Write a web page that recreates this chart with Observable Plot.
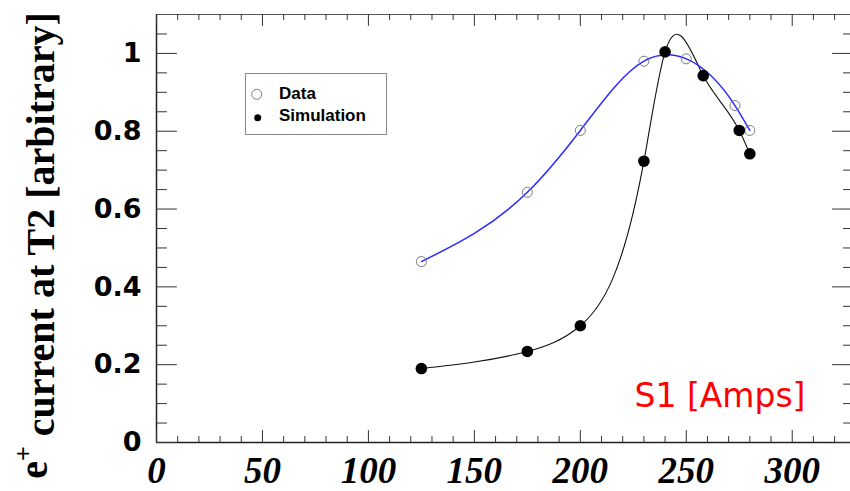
<!DOCTYPE html>
<html>
<head>
<meta charset="utf-8">
<script src="https://cdn.jsdelivr.net/npm/d3@7"></script>
<script src="https://cdn.jsdelivr.net/npm/@observablehq/plot@0.6"></script>
<style>
  html, body { margin: 0; padding: 0; background: white; overflow: hidden; }
  #wrap { position: relative; width: 850px; height: 491px; }
  #legend { position: absolute; left: 245px; top: 73px; width: 142px; height: 62px;
            box-sizing: border-box; border: 1px solid #888; background: white; }
</style>
</head>
<body>
<div id="wrap">
  <div id="chart"></div>
  <div id="legend"></div>
</div>
<script>
// ---- data ----
const dataX = [125, 175, 200, 230, 250, 273, 280];
const dataY = [0.465, 0.643, 0.802, 0.980, 0.986, 0.866, 0.802];
const simX  = [125, 175, 200, 230, 240, 258, 275, 280];
const simY  = [0.190, 0.234, 0.300, 0.723, 1.004, 0.943, 0.802, 0.742];

// ---- axes / ticks ----
const xMajor = [0, 50, 100, 150, 200, 250, 300];
const xMinor = [10, 20, 30, 40, 60, 70, 80, 90, 110, 120, 130, 140, 160, 170, 180, 190,
                210, 220, 230, 240, 260, 270, 280, 290, 310, 320];
const yMajor = [0, 0.2, 0.4, 0.6, 0.8, 1];
const yMinor = [0.05, 0.1, 0.15, 0.25, 0.3, 0.35, 0.45, 0.5, 0.55, 0.65, 0.7, 0.75,
                0.85, 0.9, 0.95, 1.05];
const xDomain = [0, 327.5];
const yDomain = [0, 1.1];

const yTitle = "e current at T2 [arbitrary]";
const xTitle = "S1 [Amps]";
const seriesNames = ["Data", "Simulation"];

const dataRows = dataX.map((x, i) => ({x, y: dataY[i]}));
const simRows  = simX.map((x, i) => ({x, y: simY[i]}));

// Smooth curve renderer (natural cubic spline of y over x), like ROOT's "C" draw option.
function curveSplineX(context) {
  let xs, ys;
  return {
    areaStart() {}, areaEnd() {},
    lineStart() { xs = []; ys = []; },
    point(x, y) { xs.push(+x); ys.push(+y); },
    lineEnd() {
      const n = xs.length;
      if (!n) return;
      context.moveTo(xs[0], ys[0]);
      if (n === 1) return;
      if (n === 2) { context.lineTo(xs[1], ys[1]); return; }
      const h = [], M = new Array(n).fill(0), b = [], c = [], d = [], a = [];
      for (let i = 0; i < n - 1; i++) h[i] = xs[i + 1] - xs[i];
      for (let i = 1; i < n - 1; i++) {
        a[i] = h[i - 1]; b[i] = 2 * (h[i - 1] + h[i]); c[i] = h[i];
        d[i] = 6 * ((ys[i + 1] - ys[i]) / h[i] - (ys[i] - ys[i - 1]) / h[i - 1]);
      }
      for (let i = 2; i < n - 1; i++) {
        const w = a[i] / b[i - 1];
        b[i] -= w * c[i - 1]; d[i] -= w * d[i - 1];
      }
      M[n - 2] = d[n - 2] / b[n - 2];
      for (let i = n - 3; i >= 1; i--) M[i] = (d[i] - c[i] * M[i + 1]) / b[i];
      for (let i = 0; i < n - 1; i++) {
        const sl = (ys[i + 1] - ys[i]) / h[i];
        const s0 = sl - h[i] * (2 * M[i] + M[i + 1]) / 6;
        const s1 = sl + h[i] * (M[i] + 2 * M[i + 1]) / 6;
        context.bezierCurveTo(xs[i] + h[i] / 3, ys[i] + s0 * h[i] / 3,
                              xs[i + 1] - h[i] / 3, ys[i + 1] - s1 * h[i] / 3,
                              xs[i + 1], ys[i + 1]);
      }
    }
  };
}

const tickShape = { draw(context, l) { context.moveTo(0, 0); context.lineTo(0, -l); } };
const tickStroke = "#333";

function ticks(values, axis, side, len) {
  const opts = { length: len, anchor: "start", shape: tickShape, stroke: tickStroke, strokeWidth: 1 };
  if (axis === "y") {
    return Plot.vector(values, { ...opts, y: d => d,
      x: () => side === "left" ? xDomain[0] : xDomain[1], rotate: side === "left" ? 90 : -90 });
  }
  return Plot.vector(values, { ...opts, x: d => d,
    y: () => side === "bottom" ? yDomain[0] : yDomain[1], rotate: side === "bottom" ? 0 : 180 });
}

const chart = Plot.plot({
  width: 850, height: 491,
  marginLeft: 156, marginRight: 0, marginTop: 14, marginBottom: 49,
  style: { background: "white", overflow: "hidden" },
  x: { domain: xDomain },
  y: { domain: yDomain },
  marks: [
    Plot.ruleX([xDomain[0]], { stroke: "#222", strokeWidth: 1.5 }),
    Plot.ruleY([yDomain[0]], { stroke: "#222", strokeWidth: 1.5 }),
    Plot.ruleY([yDomain[1]], { stroke: "#555", strokeWidth: 1.2 }),
    ticks(yMajor, "y", "left", 20), ticks(yMinor, "y", "left", 10),
    ticks(yMajor, "y", "right", 18), ticks(yMinor, "y", "right", 7),
    ticks(xMajor, "x", "bottom", 12), ticks(xMinor, "x", "bottom", 6),
    ticks(xMajor, "x", "top", 11), ticks(xMinor, "x", "top", 5),
    Plot.axisY({ ticks: yMajor, tickSize: 0, tickPadding: 15, label: null,
      fontSize: 27, fontWeight: "bold", fontFamily: "DejaVu Sans", fill: "black",
      tickFormat: d => String(d) }),
    Plot.axisX({ ticks: xMajor, tickSize: 0, tickPadding: 14, label: null,
      fontSize: 37, fontWeight: "bold", fontStyle: "italic", fontFamily: "Liberation Serif",
      fill: "black", tickFormat: d => String(d) }),
    Plot.line(simRows, { x: "x", y: "y", curve: curveSplineX, stroke: "#111", strokeWidth: 1.1 }),
    Plot.line(dataRows, { x: "x", y: "y", curve: curveSplineX, stroke: "#2b2bff", strokeWidth: 1.5 }),
    Plot.dot(dataRows, { x: "x", y: "y", r: 5, stroke: "#7a7a7a", strokeWidth: 1, fill: "none" }),
    Plot.dot(simRows, { x: "x", y: "y", r: 5.8, fill: "black", stroke: "none" }),
    Plot.text([yTitle], { text: d => d, frameAnchor: "left", rotate: -90, textAnchor: "middle",
      lineAnchor: "bottom", dx: -110, dy: 17, fontSize: 40, fontWeight: "bold",
      fontFamily: "Liberation Serif", fill: "black", className: "ytitle" }),
    Plot.text([xTitle], { text: d => d, frameAnchor: "bottom-right", textAnchor: "end",
      lineAnchor: "bottom", dx: -45, dy: -36, fontSize: 33, fontFamily: "DejaVu Sans",
      fill: "#ff0000" })
  ]
});
document.getElementById("chart").appendChild(chart);

// superscript "+" on the e in the y title
d3.select(chart).selectAll(".ytitle text").each(function () {
  const t = d3.select(this);
  const rest = t.text().slice(1);
  t.text("");
  t.append("tspan").text("e");
  t.append("tspan").attr("font-size", "26").attr("dy", "-0.55em").text("+");
  t.append("tspan").attr("dy", "0.55em").text(rest);
});

// legend
const lg = d3.select("#legend").append("svg").attr("width", 140).attr("height", 60);
lg.append("circle").attr("cx", 10.7).attr("cy", 20.3).attr("r", 5)
  .attr("fill", "none").attr("stroke", "#7a7a7a");
lg.append("circle").attr("cx", 11.7).attr("cy", 43.7).attr("r", 3.5).attr("fill", "black");
lg.selectAll("text").data(seriesNames).join("text")
  .attr("x", 33).attr("y", (d, i) => i === 0 ? 25.3 : 47)
  .attr("font-family", "Liberation Sans, Arial, sans-serif").attr("font-weight", "bold")
  .attr("font-size", 17).attr("fill", "black").text(d => d);
</script>
</body>
</html>
